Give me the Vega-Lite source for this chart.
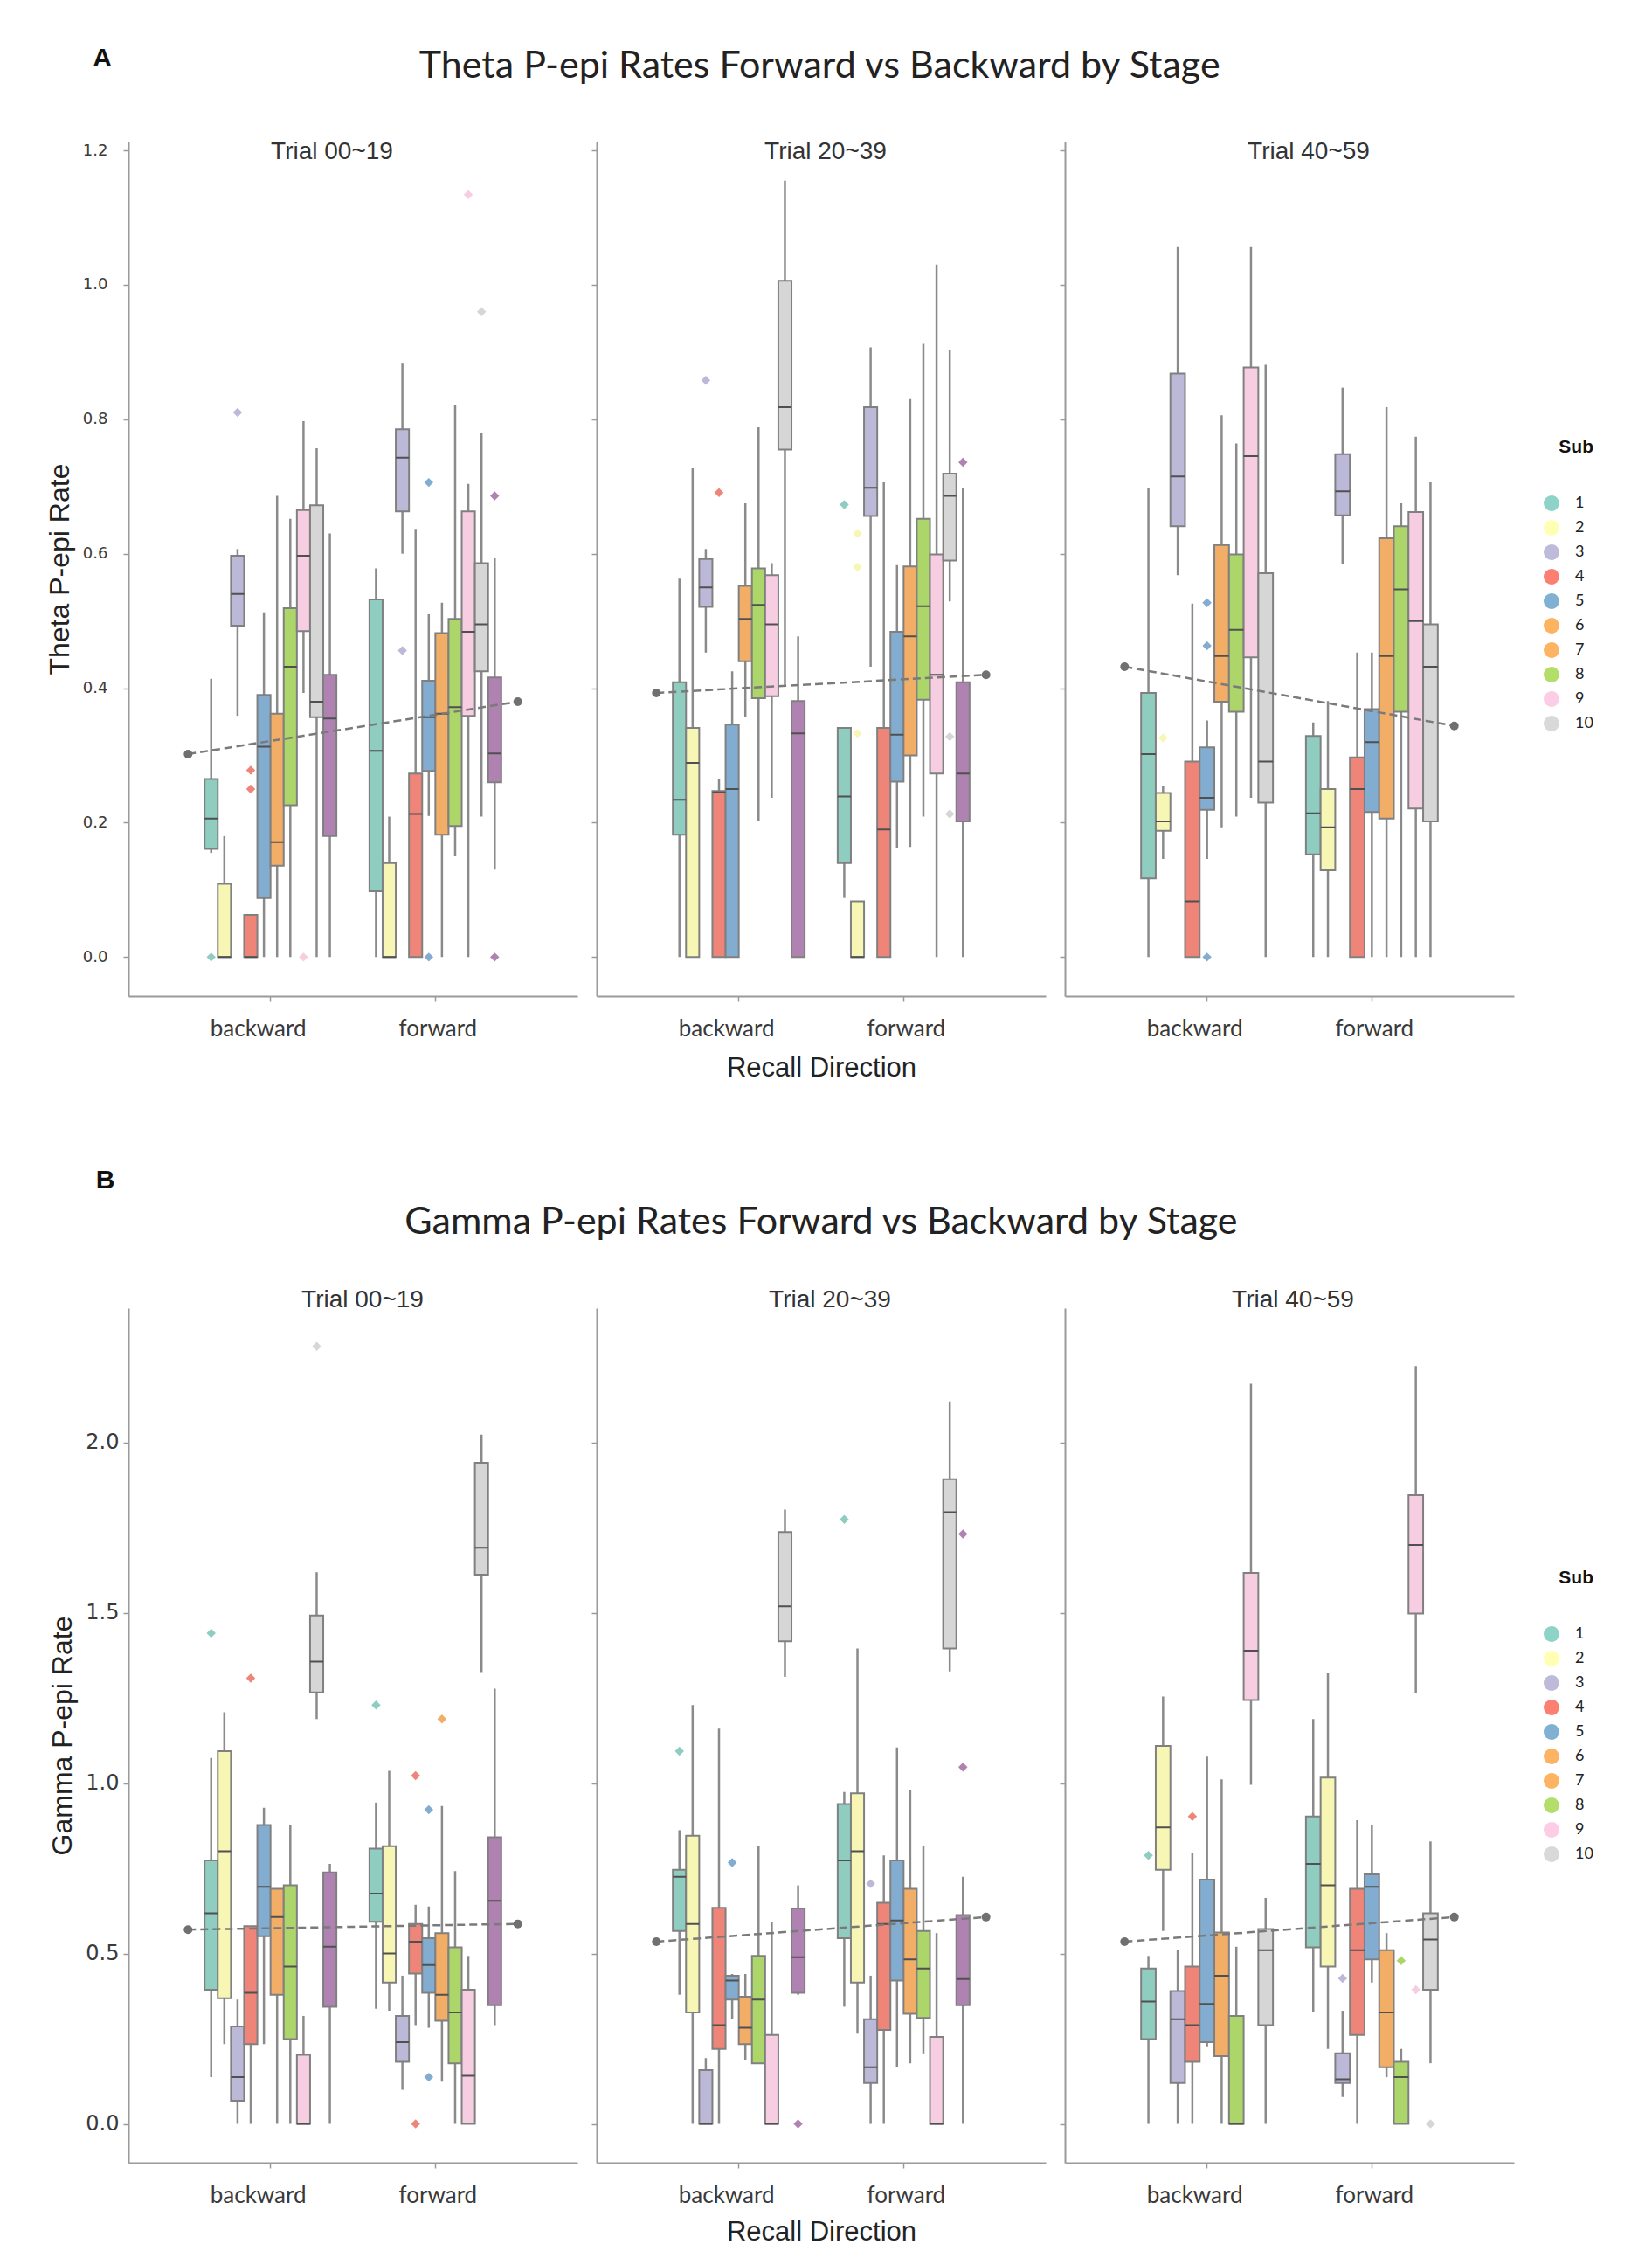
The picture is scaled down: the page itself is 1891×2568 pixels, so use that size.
{
  "$schema": "https://vega.github.io/schema/vega-lite/v6.json",
  "background": "white",
  "padding": {"left": 52, "top": 52, "right": 10, "bottom": 10},
  "datasets": {
    "theta": [
      {"k":"box","st":"00~19","d":"backward","sub":"1","lo":0.155,"q1":0.161,"med":0.206,"q3":0.265,"hi":0.414},
      {"k":"box","st":"00~19","d":"backward","sub":"2","lo":0,"q1":0,"med":0,"q3":0.109,"hi":0.18},
      {"k":"box","st":"00~19","d":"backward","sub":"3","lo":0.359,"q1":0.493,"med":0.54,"q3":0.597,"hi":0.607},
      {"k":"box","st":"00~19","d":"backward","sub":"4","lo":0,"q1":0,"med":0,"q3":0.063,"hi":0.063},
      {"k":"box","st":"00~19","d":"backward","sub":"5","lo":0,"q1":0.088,"med":0.313,"q3":0.39,"hi":0.513},
      {"k":"box","st":"00~19","d":"backward","sub":"6","lo":0,"q1":0.136,"med":0.171,"q3":0.362,"hi":0.686},
      {"k":"box","st":"00~19","d":"backward","sub":"7","lo":0,"q1":0.226,"med":0.432,"q3":0.519,"hi":0.652},
      {"k":"box","st":"00~19","d":"backward","sub":"8","lo":0.393,"q1":0.485,"med":0.597,"q3":0.665,"hi":0.797},
      {"k":"box","st":"00~19","d":"backward","sub":"9","lo":0,"q1":0.357,"med":0.38,"q3":0.672,"hi":0.757},
      {"k":"box","st":"00~19","d":"backward","sub":"10","lo":0,"q1":0.18,"med":0.355,"q3":0.42,"hi":0.63},
      {"k":"box","st":"00~19","d":"forward","sub":"1","lo":0,"q1":0.098,"med":0.307,"q3":0.532,"hi":0.578},
      {"k":"box","st":"00~19","d":"forward","sub":"2","lo":0,"q1":0,"med":0,"q3":0.14,"hi":0.209},
      {"k":"box","st":"00~19","d":"forward","sub":"3","lo":0.6,"q1":0.663,"med":0.743,"q3":0.785,"hi":0.884},
      {"k":"box","st":"00~19","d":"forward","sub":"4","lo":0,"q1":0,"med":0.213,"q3":0.273,"hi":0.637},
      {"k":"box","st":"00~19","d":"forward","sub":"5","lo":0.21,"q1":0.277,"med":0.357,"q3":0.411,"hi":0.51},
      {"k":"box","st":"00~19","d":"forward","sub":"6","lo":0,"q1":0.182,"med":0.362,"q3":0.482,"hi":0.527},
      {"k":"box","st":"00~19","d":"forward","sub":"7","lo":0.15,"q1":0.195,"med":0.372,"q3":0.503,"hi":0.821},
      {"k":"box","st":"00~19","d":"forward","sub":"8","lo":0,"q1":0.359,"med":0.484,"q3":0.663,"hi":0.704},
      {"k":"box","st":"00~19","d":"forward","sub":"9","lo":0.209,"q1":0.425,"med":0.495,"q3":0.586,"hi":0.78},
      {"k":"box","st":"00~19","d":"forward","sub":"10","lo":0.13,"q1":0.26,"med":0.303,"q3":0.416,"hi":0.594},
      {"k":"out","st":"00~19","d":"backward","sub":"1","v":0},
      {"k":"out","st":"00~19","d":"backward","sub":"3","v":0.81},
      {"k":"out","st":"00~19","d":"backward","sub":"4","v":0.278},
      {"k":"out","st":"00~19","d":"backward","sub":"4","v":0.25},
      {"k":"out","st":"00~19","d":"backward","sub":"8","v":0},
      {"k":"out","st":"00~19","d":"forward","sub":"3","v":0.456},
      {"k":"out","st":"00~19","d":"forward","sub":"5","v":0.706},
      {"k":"out","st":"00~19","d":"forward","sub":"5","v":0},
      {"k":"out","st":"00~19","d":"forward","sub":"8","v":1.134},
      {"k":"out","st":"00~19","d":"forward","sub":"9","v":0.96},
      {"k":"out","st":"00~19","d":"forward","sub":"10","v":0.686},
      {"k":"out","st":"00~19","d":"forward","sub":"10","v":0},
      {"k":"reg","st":"00~19","rx":-0.5,"ry":0.302},
      {"k":"reg","st":"00~19","rx":1.5,"ry":0.38},

      {"k":"box","st":"20~39","d":"backward","sub":"1","lo":0,"q1":0.182,"med":0.234,"q3":0.409,"hi":0.563},
      {"k":"box","st":"20~39","d":"backward","sub":"2","lo":0,"q1":0,"med":0.289,"q3":0.341,"hi":0.727},
      {"k":"box","st":"20~39","d":"backward","sub":"3","lo":0.453,"q1":0.521,"med":0.55,"q3":0.592,"hi":0.607},
      {"k":"box","st":"20~39","d":"backward","sub":"4","lo":0,"q1":0,"med":0.245,"q3":0.247,"hi":0.265},
      {"k":"box","st":"20~39","d":"backward","sub":"5","lo":0,"q1":0,"med":0.25,"q3":0.346,"hi":0.425},
      {"k":"box","st":"20~39","d":"backward","sub":"6","lo":0.357,"q1":0.44,"med":0.503,"q3":0.552,"hi":0.675},
      {"k":"box","st":"20~39","d":"backward","sub":"7","lo":0.202,"q1":0.385,"med":0.524,"q3":0.578,"hi":0.788},
      {"k":"box","st":"20~39","d":"backward","sub":"8","lo":0.237,"q1":0.388,"med":0.495,"q3":0.568,"hi":0.586},
      {"k":"box","st":"20~39","d":"backward","sub":"9","lo":0.404,"q1":0.755,"med":0.818,"q3":1.006,"hi":1.155},
      {"k":"box","st":"20~39","d":"backward","sub":"10","lo":0,"q1":0,"med":0.333,"q3":0.381,"hi":0.477},
      {"k":"box","st":"20~39","d":"forward","sub":"1","lo":0.088,"q1":0.14,"med":0.239,"q3":0.341,"hi":0.341},
      {"k":"box","st":"20~39","d":"forward","sub":"2","lo":0,"q1":0,"med":0,"q3":0.083,"hi":0.083},
      {"k":"box","st":"20~39","d":"forward","sub":"3","lo":0.432,"q1":0.656,"med":0.698,"q3":0.818,"hi":0.907},
      {"k":"box","st":"20~39","d":"forward","sub":"4","lo":0,"q1":0,"med":0.19,"q3":0.341,"hi":0.706},
      {"k":"box","st":"20~39","d":"forward","sub":"5","lo":0.162,"q1":0.261,"med":0.331,"q3":0.484,"hi":0.583},
      {"k":"box","st":"20~39","d":"forward","sub":"6","lo":0.164,"q1":0.3,"med":0.477,"q3":0.581,"hi":0.83},
      {"k":"box","st":"20~39","d":"forward","sub":"7","lo":0.209,"q1":0.383,"med":0.522,"q3":0.652,"hi":0.912},
      {"k":"box","st":"20~39","d":"forward","sub":"8","lo":0,"q1":0.273,"med":0.42,"q3":0.599,"hi":1.03},
      {"k":"box","st":"20~39","d":"forward","sub":"9","lo":0.529,"q1":0.59,"med":0.686,"q3":0.719,"hi":0.903},
      {"k":"box","st":"20~39","d":"forward","sub":"10","lo":0,"q1":0.202,"med":0.273,"q3":0.409,"hi":0.698},
      {"k":"out","st":"20~39","d":"backward","sub":"3","v":0.858},
      {"k":"out","st":"20~39","d":"backward","sub":"4","v":0.691},
      {"k":"out","st":"20~39","d":"forward","sub":"1","v":0.673},
      {"k":"out","st":"20~39","d":"forward","sub":"2","v":0.333},
      {"k":"out","st":"20~39","d":"forward","sub":"2","v":0.58},
      {"k":"out","st":"20~39","d":"forward","sub":"2","v":0.63},
      {"k":"out","st":"20~39","d":"forward","sub":"9","v":0.328},
      {"k":"out","st":"20~39","d":"forward","sub":"9","v":0.213},
      {"k":"out","st":"20~39","d":"forward","sub":"10","v":0.736},
      {"k":"reg","st":"20~39","rx":-0.5,"ry":0.393},
      {"k":"reg","st":"20~39","rx":1.5,"ry":0.42},

      {"k":"box","st":"40~59","d":"backward","sub":"1","lo":0,"q1":0.117,"med":0.302,"q3":0.393,"hi":0.698},
      {"k":"box","st":"40~59","d":"backward","sub":"2","lo":0.146,"q1":0.188,"med":0.202,"q3":0.244,"hi":0.255},
      {"k":"box","st":"40~59","d":"backward","sub":"3","lo":0.568,"q1":0.641,"med":0.715,"q3":0.868,"hi":1.056},
      {"k":"box","st":"40~59","d":"backward","sub":"4","lo":0,"q1":0,"med":0.083,"q3":0.291,"hi":0.526},
      {"k":"box","st":"40~59","d":"backward","sub":"5","lo":0.146,"q1":0.219,"med":0.237,"q3":0.312,"hi":0.352},
      {"k":"box","st":"40~59","d":"backward","sub":"6","lo":0.193,"q1":0.38,"med":0.448,"q3":0.613,"hi":0.806},
      {"k":"box","st":"40~59","d":"backward","sub":"7","lo":0.209,"q1":0.365,"med":0.487,"q3":0.599,"hi":0.764},
      {"k":"box","st":"40~59","d":"backward","sub":"8","lo":0.237,"q1":0.446,"med":0.745,"q3":0.877,"hi":1.056},
      {"k":"box","st":"40~59","d":"backward","sub":"9","lo":0,"q1":0.23,"med":0.291,"q3":0.571,"hi":0.881},
      {"k":"box","st":"40~59","d":"forward","sub":"1","lo":0,"q1":0.153,"med":0.214,"q3":0.329,"hi":0.349},
      {"k":"box","st":"40~59","d":"forward","sub":"2","lo":0,"q1":0.129,"med":0.193,"q3":0.25,"hi":0.381},
      {"k":"box","st":"40~59","d":"forward","sub":"3","lo":0.584,"q1":0.657,"med":0.693,"q3":0.748,"hi":0.847},
      {"k":"box","st":"40~59","d":"forward","sub":"4","lo":0,"q1":0,"med":0.25,"q3":0.297,"hi":0.453},
      {"k":"box","st":"40~59","d":"forward","sub":"5","lo":0,"q1":0.216,"med":0.32,"q3":0.369,"hi":0.453},
      {"k":"box","st":"40~59","d":"forward","sub":"6","lo":0,"q1":0.206,"med":0.448,"q3":0.623,"hi":0.818},
      {"k":"box","st":"40~59","d":"forward","sub":"7","lo":0,"q1":0.365,"med":0.547,"q3":0.641,"hi":0.675},
      {"k":"box","st":"40~59","d":"forward","sub":"8","lo":0,"q1":0.221,"med":0.5,"q3":0.662,"hi":0.774},
      {"k":"box","st":"40~59","d":"forward","sub":"9","lo":0,"q1":0.202,"med":0.432,"q3":0.495,"hi":0.706},
      {"k":"out","st":"40~59","d":"backward","sub":"2","v":0.326},
      {"k":"out","st":"40~59","d":"backward","sub":"5","v":0.527},
      {"k":"out","st":"40~59","d":"backward","sub":"5","v":0.463},
      {"k":"out","st":"40~59","d":"backward","sub":"5","v":0},
      {"k":"reg","st":"40~59","rx":-0.5,"ry":0.432},
      {"k":"reg","st":"40~59","rx":1.5,"ry":0.344}
    ],
    "gamma": [
      {"k":"box","st":"00~19","d":"backward","sub":"1","lo":0.137,"q1":0.394,"med":0.618,"q3":0.773,"hi":1.074},
      {"k":"box","st":"00~19","d":"backward","sub":"2","lo":0.234,"q1":0.369,"med":0.8,"q3":1.094,"hi":1.208},
      {"k":"box","st":"00~19","d":"backward","sub":"3","lo":0,"q1":0.068,"med":0.137,"q3":0.286,"hi":0.365},
      {"k":"box","st":"00~19","d":"backward","sub":"4","lo":0,"q1":0.234,"med":0.385,"q3":0.58,"hi":0.58},
      {"k":"box","st":"00~19","d":"backward","sub":"5","lo":0.234,"q1":0.551,"med":0.696,"q3":0.877,"hi":0.928},
      {"k":"box","st":"00~19","d":"backward","sub":"6","lo":0,"q1":0.379,"med":0.607,"q3":0.69,"hi":0.69},
      {"k":"box","st":"00~19","d":"backward","sub":"7","lo":0,"q1":0.249,"med":0.462,"q3":0.7,"hi":0.877},
      {"k":"box","st":"00~19","d":"backward","sub":"8","lo":0,"q1":0,"med":0,"q3":0.203,"hi":0.317},
      {"k":"box","st":"00~19","d":"backward","sub":"9","lo":1.188,"q1":1.266,"med":1.357,"q3":1.492,"hi":1.619},
      {"k":"box","st":"00~19","d":"backward","sub":"10","lo":0,"q1":0.344,"med":0.52,"q3":0.738,"hi":0.763},
      {"k":"box","st":"00~19","d":"forward","sub":"1","lo":0.338,"q1":0.593,"med":0.676,"q3":0.808,"hi":0.943},
      {"k":"box","st":"00~19","d":"forward","sub":"2","lo":0.332,"q1":0.415,"med":0.5,"q3":0.815,"hi":1.036},
      {"k":"box","st":"00~19","d":"forward","sub":"3","lo":0.1,"q1":0.182,"med":0.24,"q3":0.317,"hi":0.435},
      {"k":"box","st":"00~19","d":"forward","sub":"4","lo":0.29,"q1":0.441,"med":0.535,"q3":0.587,"hi":0.643},
      {"k":"box","st":"00~19","d":"forward","sub":"5","lo":0.282,"q1":0.385,"med":0.466,"q3":0.545,"hi":0.638},
      {"k":"box","st":"00~19","d":"forward","sub":"6","lo":0.124,"q1":0.303,"med":0.379,"q3":0.56,"hi":0.933},
      {"k":"box","st":"00~19","d":"forward","sub":"7","lo":0,"q1":0.178,"med":0.327,"q3":0.518,"hi":0.742},
      {"k":"box","st":"00~19","d":"forward","sub":"8","lo":0,"q1":0,"med":0.141,"q3":0.394,"hi":0.493},
      {"k":"box","st":"00~19","d":"forward","sub":"9","lo":1.326,"q1":1.612,"med":1.691,"q3":1.94,"hi":2.023},
      {"k":"box","st":"00~19","d":"forward","sub":"10","lo":0.29,"q1":0.348,"med":0.655,"q3":0.841,"hi":1.277},
      {"k":"out","st":"00~19","d":"backward","sub":"1","v":1.44},
      {"k":"out","st":"00~19","d":"backward","sub":"4","v":1.308},
      {"k":"out","st":"00~19","d":"backward","sub":"9","v":2.282},
      {"k":"out","st":"00~19","d":"forward","sub":"1","v":1.229},
      {"k":"out","st":"00~19","d":"forward","sub":"4","v":1.022},
      {"k":"out","st":"00~19","d":"forward","sub":"4","v":0},
      {"k":"out","st":"00~19","d":"forward","sub":"5","v":0.922},
      {"k":"out","st":"00~19","d":"forward","sub":"5","v":0.137},
      {"k":"out","st":"00~19","d":"forward","sub":"6","v":1.188},
      {"k":"reg","st":"00~19","rx":-0.5,"ry":0.57},
      {"k":"reg","st":"00~19","rx":1.5,"ry":0.587},

      {"k":"box","st":"20~39","d":"backward","sub":"1","lo":0.379,"q1":0.566,"med":0.725,"q3":0.746,"hi":0.862},
      {"k":"box","st":"20~39","d":"backward","sub":"2","lo":0,"q1":0.327,"med":0.587,"q3":0.846,"hi":1.229},
      {"k":"box","st":"20~39","d":"backward","sub":"3","lo":0,"q1":0,"med":0,"q3":0.158,"hi":0.193},
      {"k":"box","st":"20~39","d":"backward","sub":"4","lo":0,"q1":0.22,"med":0.29,"q3":0.634,"hi":1.16},
      {"k":"box","st":"20~39","d":"backward","sub":"5","lo":0.307,"q1":0.365,"med":0.421,"q3":0.435,"hi":0.44},
      {"k":"box","st":"20~39","d":"backward","sub":"6","lo":0.187,"q1":0.234,"med":0.282,"q3":0.373,"hi":0.44},
      {"k":"box","st":"20~39","d":"backward","sub":"7","lo":0.178,"q1":0.178,"med":0.365,"q3":0.493,"hi":0.815},
      {"k":"box","st":"20~39","d":"backward","sub":"8","lo":0,"q1":0,"med":0,"q3":0.261,"hi":0.593},
      {"k":"box","st":"20~39","d":"backward","sub":"9","lo":1.312,"q1":1.416,"med":1.519,"q3":1.737,"hi":1.803},
      {"k":"box","st":"20~39","d":"backward","sub":"10","lo":0.379,"q1":0.385,"med":0.489,"q3":0.632,"hi":0.7},
      {"k":"box","st":"20~39","d":"forward","sub":"1","lo":0.344,"q1":0.545,"med":0.773,"q3":0.939,"hi":0.974},
      {"k":"box","st":"20~39","d":"forward","sub":"2","lo":0.265,"q1":0.415,"med":0.8,"q3":0.97,"hi":1.395},
      {"k":"box","st":"20~39","d":"forward","sub":"3","lo":0,"q1":0.12,"med":0.166,"q3":0.307,"hi":0.435},
      {"k":"box","st":"20~39","d":"forward","sub":"4","lo":0,"q1":0.276,"med":0.587,"q3":0.649,"hi":0.788},
      {"k":"box","st":"20~39","d":"forward","sub":"5","lo":0.166,"q1":0.421,"med":0.597,"q3":0.773,"hi":1.105},
      {"k":"box","st":"20~39","d":"forward","sub":"6","lo":0.178,"q1":0.323,"med":0.483,"q3":0.69,"hi":0.98},
      {"k":"box","st":"20~39","d":"forward","sub":"7","lo":0.207,"q1":0.311,"med":0.456,"q3":0.566,"hi":0.815},
      {"k":"box","st":"20~39","d":"forward","sub":"8","lo":0,"q1":0,"med":0,"q3":0.255,"hi":0.56},
      {"k":"box","st":"20~39","d":"forward","sub":"9","lo":1.328,"q1":1.395,"med":1.795,"q3":1.892,"hi":2.12},
      {"k":"box","st":"20~39","d":"forward","sub":"10","lo":0,"q1":0.348,"med":0.425,"q3":0.613,"hi":0.725},
      {"k":"out","st":"20~39","d":"backward","sub":"1","v":1.094},
      {"k":"out","st":"20~39","d":"backward","sub":"5","v":0.767},
      {"k":"out","st":"20~39","d":"backward","sub":"10","v":0},
      {"k":"out","st":"20~39","d":"forward","sub":"1","v":1.774},
      {"k":"out","st":"20~39","d":"forward","sub":"3","v":0.705},
      {"k":"out","st":"20~39","d":"forward","sub":"10","v":1.731},
      {"k":"out","st":"20~39","d":"forward","sub":"10","v":1.047},
      {"k":"reg","st":"20~39","rx":-0.5,"ry":0.535},
      {"k":"reg","st":"20~39","rx":1.5,"ry":0.607},

      {"k":"box","st":"40~59","d":"backward","sub":"1","lo":0,"q1":0.249,"med":0.359,"q3":0.456,"hi":0.493},
      {"k":"box","st":"40~59","d":"backward","sub":"2","lo":0.566,"q1":0.746,"med":0.87,"q3":1.109,"hi":1.254},
      {"k":"box","st":"40~59","d":"backward","sub":"3","lo":0,"q1":0.12,"med":0.307,"q3":0.39,"hi":0.51},
      {"k":"box","st":"40~59","d":"backward","sub":"4","lo":0,"q1":0.182,"med":0.29,"q3":0.462,"hi":0.794},
      {"k":"box","st":"40~59","d":"backward","sub":"5","lo":0.228,"q1":0.24,"med":0.352,"q3":0.717,"hi":1.078},
      {"k":"box","st":"40~59","d":"backward","sub":"6","lo":0,"q1":0.199,"med":0.435,"q3":0.562,"hi":1.011},
      {"k":"box","st":"40~59","d":"backward","sub":"7","lo":0,"q1":0,"med":0,"q3":0.317,"hi":0.52},
      {"k":"box","st":"40~59","d":"backward","sub":"8","lo":0.995,"q1":1.244,"med":1.389,"q3":1.617,"hi":2.172},
      {"k":"box","st":"40~59","d":"backward","sub":"9","lo":0,"q1":0.29,"med":0.51,"q3":0.572,"hi":0.663},
      {"k":"box","st":"40~59","d":"forward","sub":"1","lo":0.327,"q1":0.518,"med":0.763,"q3":0.902,"hi":1.188},
      {"k":"box","st":"40~59","d":"forward","sub":"2","lo":0.22,"q1":0.462,"med":0.7,"q3":1.016,"hi":1.322},
      {"k":"box","st":"40~59","d":"forward","sub":"3","lo":0.079,"q1":0.12,"med":0.131,"q3":0.207,"hi":0.332},
      {"k":"box","st":"40~59","d":"forward","sub":"4","lo":0,"q1":0.261,"med":0.51,"q3":0.69,"hi":0.891},
      {"k":"box","st":"40~59","d":"forward","sub":"5","lo":0.415,"q1":0.483,"med":0.696,"q3":0.732,"hi":0.877},
      {"k":"box","st":"40~59","d":"forward","sub":"6","lo":0.137,"q1":0.166,"med":0.327,"q3":0.51,"hi":0.56},
      {"k":"box","st":"40~59","d":"forward","sub":"7","lo":0,"q1":0,"med":0.137,"q3":0.182,"hi":0.22},
      {"k":"box","st":"40~59","d":"forward","sub":"8","lo":1.264,"q1":1.498,"med":1.699,"q3":1.845,"hi":2.224},
      {"k":"box","st":"40~59","d":"forward","sub":"9","lo":0.178,"q1":0.394,"med":0.541,"q3":0.618,"hi":0.829},
      {"k":"out","st":"40~59","d":"backward","sub":"1","v":0.788},
      {"k":"out","st":"40~59","d":"backward","sub":"4","v":0.902},
      {"k":"out","st":"40~59","d":"backward","sub":"8","v":1.343},
      {"k":"out","st":"40~59","d":"forward","sub":"3","v":0.427},
      {"k":"out","st":"40~59","d":"forward","sub":"7","v":0.479},
      {"k":"out","st":"40~59","d":"forward","sub":"8","v":0.394},
      {"k":"out","st":"40~59","d":"forward","sub":"9","v":0},
      {"k":"reg","st":"40~59","rx":-0.5,"ry":0.535},
      {"k":"reg","st":"40~59","rx":1.5,"ry":0.607}
    ]
  },
  "vconcat": [
    {
      "title": {"text": "A", "anchor": "start", "frame": "bounds", "font": "Liberation Sans", "fontSize": 30, "fontWeight": "bold", "color": "#111111", "dx": 54, "offset": -27},
      "vconcat": [
        {
          "title": {"text": "Theta P-epi Rates Forward vs Backward by Stage", "anchor": "middle", "frame": "bounds", "font": "Lato", "fontSize": 43, "fontWeight": "normal", "color": "#222222", "offset": 62},
          "spacing": 22,
          "bounds": "flush",
          "resolve": {"scale": {"fill": "independent", "xOffset": "independent"}},
          "hconcat": [
            {
              "width": 514, "height": 978,
              "title": {"text": "Trial  00~19", "frame": "group", "anchor": "middle", "offset": -26, "dx": -24, "font": "Liberation Sans", "fontSize": 28, "fontWeight": "normal", "color": "#333333"},
              "layer": [
                {"layer": [
                  {"data": {"name": "theta"}, "transform": [{"filter": "datum.st == '00~19' && datum.k == 'box'"}],
                   "mark": {"type": "rule", "color": "#8a8a8a", "strokeWidth": 2.5},
                   "encoding": {
                     "x": {"field": "d", "type": "nominal", "scale": {"domain": ["backward", "forward"], "paddingInner": 0.2, "paddingOuter": 0.462},
                           "axis": {"title": null, "labelAngle": 0, "labelFont": "Lato", "labelFontSize": 26, "labelPadding": 18, "labelOffset": {"condition": {"test": "datum.value == 'backward'", "value": -14}, "value": 3}}},
                     "xOffset": {"field": "sub", "type": "nominal", "scale": {"domain": ["1","2","3","4","5","6","7","8","9","10"], "paddingInner": 0, "paddingOuter": 0}},
                     "y": {"field": "lo", "type": "quantitative", "scale": {"domain": [-0.058, 1.213], "nice": false, "zero": false},
                           "axis": {"title": "Theta P-epi Rate", "titleFont": "Liberation Sans", "titleFontSize": 32, "titlePadding": 9, "labelFont": "DejaVu Sans", "labelFontSize": 18, "labelPadding": 18, "values": [0, 0.2, 0.4, 0.6, 0.8, 1.0, 1.2], "format": ".1f"}},
                     "y2": {"field": "hi"}}},
                  {"data": {"name": "theta"}, "transform": [{"filter": "datum.st == '00~19' && datum.k == 'box'"}],
                   "mark": {"type": "bar", "stroke": "#808080", "strokeWidth": 2},
                   "encoding": {"x": {"field": "d", "type": "nominal"}, "xOffset": {"field": "sub", "type": "nominal"},
                     "y": {"field": "q1", "type": "quantitative"}, "y2": {"field": "q3"},
                     "color": {"field": "sub", "type": "nominal", "scale": {"domain": ["1","2","3","4","5","6","7","8","9","10"], "range": ["#8fcdc1","#f7f6b5","#bcb8d8","#ef8579","#83add0","#f2ae66","#add66a","#f7cde2","#d6d6d6","#b082b2"]}, "legend": null}}},
                  {"data": {"name": "theta"}, "transform": [{"filter": "datum.st == '00~19' && datum.k == 'box'"}],
                   "mark": {"type": "bar", "fillOpacity": 0, "stroke": "#505050", "strokeWidth": 2},
                   "encoding": {"x": {"field": "d", "type": "nominal"}, "xOffset": {"field": "sub", "type": "nominal"},
                     "y": {"field": "med", "type": "quantitative"}, "y2": {"field": "med"}}},
                  {"data": {"name": "theta"}, "transform": [{"filter": "datum.st == '00~19' && datum.k == 'out'"}],
                   "mark": {"type": "point", "shape": "diamond", "filled": true, "size": 110, "opacity": 1},
                   "encoding": {"x": {"field": "d", "type": "nominal"}, "xOffset": {"field": "sub", "type": "nominal"},
                     "y": {"field": "v", "type": "quantitative"},
                     "color": {"field": "sub", "type": "nominal", "legend": null}}}
                ]},
                {"layer": [
                  {"data": {"name": "theta"}, "transform": [{"filter": "datum.st == '00~19' && datum.k == 'reg'"}],
                   "mark": {"type": "line", "color": "#7a7a7a", "strokeWidth": 2.5, "strokeDash": [9, 5]},
                   "encoding": {"x": {"field": "rx", "type": "quantitative", "scale": {"domain": [-0.862, 1.862], "nice": false, "zero": false}, "axis": null},
                     "y": {"field": "ry", "type": "quantitative"}}},
                  {"data": {"name": "theta"}, "transform": [{"filter": "datum.st == '00~19' && datum.k == 'reg'"}],
                   "mark": {"type": "point", "filled": true, "color": "#707070", "size": 100, "opacity": 1},
                   "encoding": {"x": {"field": "rx", "type": "quantitative"}, "y": {"field": "ry", "type": "quantitative"}}}
                ]}
              ],
              "resolve": {"scale": {"x": "independent", "xOffset": "independent"}}
            },
            {
              "width": 514, "height": 978,
              "title": {"text": "Trial  20~39", "frame": "group", "anchor": "middle", "offset": -26, "dx": 5, "font": "Liberation Sans", "fontSize": 28, "fontWeight": "normal", "color": "#333333"},
              "layer": [
                {"layer": [
                  {"data": {"name": "theta"}, "transform": [{"filter": "datum.st == '20~39' && datum.k == 'box'"}],
                   "mark": {"type": "rule", "color": "#8a8a8a", "strokeWidth": 2.5},
                   "encoding": {
                     "x": {"field": "d", "type": "nominal", "scale": {"domain": ["backward", "forward"], "paddingInner": 0.2, "paddingOuter": 0.462},
                           "axis": {"title": "Recall Direction", "titleFont": "Liberation Sans", "titleFontSize": 31, "titlePadding": 17, "labelAngle": 0, "labelFont": "Lato", "labelFontSize": 26, "labelPadding": 18, "labelOffset": {"condition": {"test": "datum.value == 'backward'", "value": -14}, "value": 3}}},
                     "xOffset": {"field": "sub", "type": "nominal", "scale": {"domain": ["1","2","3","4","5","6","7","8","9","10"], "paddingInner": 0, "paddingOuter": 0}},
                     "y": {"field": "lo", "type": "quantitative", "scale": {"domain": [-0.058, 1.213], "nice": false, "zero": false},
                           "axis": {"title": null, "labels": false, "values": [0, 0.2, 0.4, 0.6, 0.8, 1.0, 1.2]}},
                     "y2": {"field": "hi"}}},
                  {"data": {"name": "theta"}, "transform": [{"filter": "datum.st == '20~39' && datum.k == 'box'"}],
                   "mark": {"type": "bar", "stroke": "#808080", "strokeWidth": 2},
                   "encoding": {"x": {"field": "d", "type": "nominal"}, "xOffset": {"field": "sub", "type": "nominal"},
                     "y": {"field": "q1", "type": "quantitative"}, "y2": {"field": "q3"},
                     "color": {"field": "sub", "type": "nominal", "scale": {"domain": ["1","2","3","4","5","6","7","8","9","10"], "range": ["#8fcdc1","#f7f6b5","#bcb8d8","#ef8579","#83add0","#f2ae66","#add66a","#f7cde2","#d6d6d6","#b082b2"]}, "legend": null}}},
                  {"data": {"name": "theta"}, "transform": [{"filter": "datum.st == '20~39' && datum.k == 'box'"}],
                   "mark": {"type": "bar", "fillOpacity": 0, "stroke": "#505050", "strokeWidth": 2},
                   "encoding": {"x": {"field": "d", "type": "nominal"}, "xOffset": {"field": "sub", "type": "nominal"},
                     "y": {"field": "med", "type": "quantitative"}, "y2": {"field": "med"}}},
                  {"data": {"name": "theta"}, "transform": [{"filter": "datum.st == '20~39' && datum.k == 'out'"}],
                   "mark": {"type": "point", "shape": "diamond", "filled": true, "size": 110, "opacity": 1},
                   "encoding": {"x": {"field": "d", "type": "nominal"}, "xOffset": {"field": "sub", "type": "nominal"},
                     "y": {"field": "v", "type": "quantitative"},
                     "color": {"field": "sub", "type": "nominal", "legend": null}}}
                ]},
                {"layer": [
                  {"data": {"name": "theta"}, "transform": [{"filter": "datum.st == '20~39' && datum.k == 'reg'"}],
                   "mark": {"type": "line", "color": "#7a7a7a", "strokeWidth": 2.5, "strokeDash": [9, 5]},
                   "encoding": {"x": {"field": "rx", "type": "quantitative", "scale": {"domain": [-0.862, 1.862], "nice": false, "zero": false}, "axis": null},
                     "y": {"field": "ry", "type": "quantitative"}}},
                  {"data": {"name": "theta"}, "transform": [{"filter": "datum.st == '20~39' && datum.k == 'reg'"}],
                   "mark": {"type": "point", "filled": true, "color": "#707070", "size": 100, "opacity": 1},
                   "encoding": {"x": {"field": "rx", "type": "quantitative"}, "y": {"field": "ry", "type": "quantitative"}}}
                ]}
              ],
              "resolve": {"scale": {"x": "independent", "xOffset": "independent"}}
            },
            {
              "width": 514, "height": 978,
              "title": {"text": "Trial  40~59", "frame": "group", "anchor": "middle", "offset": -26, "dx": 22, "font": "Liberation Sans", "fontSize": 28, "fontWeight": "normal", "color": "#333333"},
              "layer": [
                {"layer": [
                  {"data": {"name": "theta"}, "transform": [{"filter": "datum.st == '40~59' && datum.k == 'box'"}],
                   "mark": {"type": "rule", "color": "#8a8a8a", "strokeWidth": 2.5},
                   "encoding": {
                     "x": {"field": "d", "type": "nominal", "scale": {"domain": ["backward", "forward"], "paddingInner": 0.2, "paddingOuter": 0.462},
                           "axis": {"title": null, "labelAngle": 0, "labelFont": "Lato", "labelFontSize": 26, "labelPadding": 18, "labelOffset": {"condition": {"test": "datum.value == 'backward'", "value": -14}, "value": 3}}},
                     "xOffset": {"field": "sub", "type": "nominal", "scale": {"domain": ["1","2","3","4","5","6","7","8","9"], "paddingInner": 0, "paddingOuter": 0}},
                     "y": {"field": "lo", "type": "quantitative", "scale": {"domain": [-0.058, 1.213], "nice": false, "zero": false},
                           "axis": {"title": null, "labels": false, "values": [0, 0.2, 0.4, 0.6, 0.8, 1.0, 1.2]}},
                     "y2": {"field": "hi"}}},
                  {"data": {"name": "theta"}, "transform": [{"filter": "datum.st == '40~59' && datum.k == 'box'"}],
                   "mark": {"type": "bar", "stroke": "#808080", "strokeWidth": 2},
                   "encoding": {"x": {"field": "d", "type": "nominal"}, "xOffset": {"field": "sub", "type": "nominal"},
                     "y": {"field": "q1", "type": "quantitative"}, "y2": {"field": "q3"},
                     "color": {"field": "sub", "type": "nominal", "scale": {"domain": ["1","2","3","4","5","6","7","8","9","10"], "range": ["#8fcdc1","#f7f6b5","#bcb8d8","#ef8579","#83add0","#f2ae66","#add66a","#f7cde2","#d6d6d6","#b082b2"]}, "legend": null}}},
                  {"data": {"name": "theta"}, "transform": [{"filter": "datum.st == '40~59' && datum.k == 'box'"}],
                   "mark": {"type": "bar", "fillOpacity": 0, "stroke": "#505050", "strokeWidth": 2},
                   "encoding": {"x": {"field": "d", "type": "nominal"}, "xOffset": {"field": "sub", "type": "nominal"},
                     "y": {"field": "med", "type": "quantitative"}, "y2": {"field": "med"}}},
                  {"data": {"name": "theta"}, "transform": [{"filter": "datum.st == '40~59' && datum.k == 'out'"}],
                   "mark": {"type": "point", "shape": "diamond", "filled": true, "size": 110, "opacity": 1},
                   "encoding": {"x": {"field": "d", "type": "nominal"}, "xOffset": {"field": "sub", "type": "nominal"},
                     "y": {"field": "v", "type": "quantitative"},
                     "color": {"field": "sub", "type": "nominal", "legend": null}}},
                  {"data": {"name": "theta"}, "transform": [{"filter": "false"}],
                   "mark": {"type": "point", "filled": true, "shape": "circle"},
                   "encoding": {"fill": {"field": "sub", "type": "nominal",
                     "scale": {"domain": ["1","2","3","4","5","6","7","8","9","10"], "range": ["#8dd3c7","#ffffb3","#bebada","#fb8072","#80b1d3","#fdb462","#fdb462","#b3de69","#fccde5","#d9d9d9"]},
                     "legend": {"title": "Sub", "orient": "none", "legendX": 548, "legendY": 339, "padding": 0, "titleAnchor": "end", "titleFont": "Liberation Sans", "titleFontSize": 21, "titleFontWeight": "bold", "titleColor": "#111111", "titlePadding": 45, "labelFont": "Lato", "labelFontSize": 18, "labelColor": "#222222", "labelOffset": 18, "symbolType": "circle", "symbolSize": 324, "symbolStrokeWidth": 0, "symbolOpacity": 1, "rowPadding": 10}}}}
                ]},
                {"layer": [
                  {"data": {"name": "theta"}, "transform": [{"filter": "datum.st == '40~59' && datum.k == 'reg'"}],
                   "mark": {"type": "line", "color": "#7a7a7a", "strokeWidth": 2.5, "strokeDash": [9, 5]},
                   "encoding": {"x": {"field": "rx", "type": "quantitative", "scale": {"domain": [-0.862, 1.862], "nice": false, "zero": false}, "axis": null},
                     "y": {"field": "ry", "type": "quantitative"}}},
                  {"data": {"name": "theta"}, "transform": [{"filter": "datum.st == '40~59' && datum.k == 'reg'"}],
                   "mark": {"type": "point", "filled": true, "color": "#707070", "size": 100, "opacity": 1},
                   "encoding": {"x": {"field": "rx", "type": "quantitative"}, "y": {"field": "ry", "type": "quantitative"}}}
                ]}
              ],
              "resolve": {"scale": {"x": "independent", "xOffset": "independent"}}
            }
          ]
        }
      ]
    },
    {
      "title": {"text": "B", "anchor": "start", "frame": "bounds", "font": "Liberation Sans", "fontSize": 30, "fontWeight": "bold", "color": "#111111", "dx": 54, "offset": 12},
      "vconcat": [
        {
          "title": {"text": "Gamma P-epi Rates Forward vs Backward by Stage", "anchor": "middle", "frame": "bounds", "font": "Lato", "fontSize": 43, "fontWeight": "normal", "color": "#222222", "offset": 53},
          "spacing": 22,
          "bounds": "flush",
          "resolve": {"scale": {"fill": "independent", "xOffset": "independent"}},
          "hconcat": [
            {
              "width": 514, "height": 978,
              "title": {"text": "Trial  00~19", "frame": "group", "anchor": "middle", "offset": -5, "dx": 11, "font": "Liberation Sans", "fontSize": 28, "fontWeight": "normal", "color": "#333333"},
              "layer": [
                {"layer": [
                  {"data": {"name": "gamma"}, "transform": [{"filter": "datum.st == '00~19' && datum.k == 'box'"}],
                   "mark": {"type": "rule", "color": "#8a8a8a", "strokeWidth": 2.5},
                   "encoding": {
                     "x": {"field": "d", "type": "nominal", "scale": {"domain": ["backward", "forward"], "paddingInner": 0.2, "paddingOuter": 0.462},
                           "axis": {"title": null, "labelAngle": 0, "labelFont": "Lato", "labelFontSize": 26, "labelPadding": 18, "labelOffset": {"condition": {"test": "datum.value == 'backward'", "value": -14}, "value": 3}}},
                     "xOffset": {"field": "sub", "type": "nominal", "scale": {"domain": ["1","2","3","4","5","6","7","8","9","10"], "paddingInner": 0, "paddingOuter": 0}},
                     "y": {"field": "lo", "type": "quantitative", "scale": {"domain": [-0.114, 2.394], "nice": false, "zero": false},
                           "axis": {"title": "Gamma P-epi Rate", "titleFont": "Liberation Sans", "titleFontSize": 32, "titlePadding": 9, "labelFont": "DejaVu Sans", "labelFontSize": 24, "labelPadding": 5, "values": [0, 0.5, 1.0, 1.5, 2.0], "format": ".1f"}},
                     "y2": {"field": "hi"}}},
                  {"data": {"name": "gamma"}, "transform": [{"filter": "datum.st == '00~19' && datum.k == 'box'"}],
                   "mark": {"type": "bar", "stroke": "#808080", "strokeWidth": 2},
                   "encoding": {"x": {"field": "d", "type": "nominal"}, "xOffset": {"field": "sub", "type": "nominal"},
                     "y": {"field": "q1", "type": "quantitative"}, "y2": {"field": "q3"},
                     "color": {"field": "sub", "type": "nominal", "scale": {"domain": ["1","2","3","4","5","6","7","8","9","10"], "range": ["#8fcdc1","#f7f6b5","#bcb8d8","#ef8579","#83add0","#f2ae66","#add66a","#f7cde2","#d6d6d6","#b082b2"]}, "legend": null}}},
                  {"data": {"name": "gamma"}, "transform": [{"filter": "datum.st == '00~19' && datum.k == 'box'"}],
                   "mark": {"type": "bar", "fillOpacity": 0, "stroke": "#505050", "strokeWidth": 2},
                   "encoding": {"x": {"field": "d", "type": "nominal"}, "xOffset": {"field": "sub", "type": "nominal"},
                     "y": {"field": "med", "type": "quantitative"}, "y2": {"field": "med"}}},
                  {"data": {"name": "gamma"}, "transform": [{"filter": "datum.st == '00~19' && datum.k == 'out'"}],
                   "mark": {"type": "point", "shape": "diamond", "filled": true, "size": 110, "opacity": 1},
                   "encoding": {"x": {"field": "d", "type": "nominal"}, "xOffset": {"field": "sub", "type": "nominal"},
                     "y": {"field": "v", "type": "quantitative"},
                     "color": {"field": "sub", "type": "nominal", "legend": null}}}
                ]},
                {"layer": [
                  {"data": {"name": "gamma"}, "transform": [{"filter": "datum.st == '00~19' && datum.k == 'reg'"}],
                   "mark": {"type": "line", "color": "#7a7a7a", "strokeWidth": 2.5, "strokeDash": [9, 5]},
                   "encoding": {"x": {"field": "rx", "type": "quantitative", "scale": {"domain": [-0.862, 1.862], "nice": false, "zero": false}, "axis": null},
                     "y": {"field": "ry", "type": "quantitative"}}},
                  {"data": {"name": "gamma"}, "transform": [{"filter": "datum.st == '00~19' && datum.k == 'reg'"}],
                   "mark": {"type": "point", "filled": true, "color": "#707070", "size": 100, "opacity": 1},
                   "encoding": {"x": {"field": "rx", "type": "quantitative"}, "y": {"field": "ry", "type": "quantitative"}}}
                ]}
              ],
              "resolve": {"scale": {"x": "independent", "xOffset": "independent"}}
            },
            {
              "width": 514, "height": 978,
              "title": {"text": "Trial  20~39", "frame": "group", "anchor": "middle", "offset": -5, "dx": 10, "font": "Liberation Sans", "fontSize": 28, "fontWeight": "normal", "color": "#333333"},
              "layer": [
                {"layer": [
                  {"data": {"name": "gamma"}, "transform": [{"filter": "datum.st == '20~39' && datum.k == 'box'"}],
                   "mark": {"type": "rule", "color": "#8a8a8a", "strokeWidth": 2.5},
                   "encoding": {
                     "x": {"field": "d", "type": "nominal", "scale": {"domain": ["backward", "forward"], "paddingInner": 0.2, "paddingOuter": 0.462},
                           "axis": {"title": "Recall Direction", "titleFont": "Liberation Sans", "titleFontSize": 31, "titlePadding": 14, "labelAngle": 0, "labelFont": "Lato", "labelFontSize": 26, "labelPadding": 18, "labelOffset": {"condition": {"test": "datum.value == 'backward'", "value": -14}, "value": 3}}},
                     "xOffset": {"field": "sub", "type": "nominal", "scale": {"domain": ["1","2","3","4","5","6","7","8","9","10"], "paddingInner": 0, "paddingOuter": 0}},
                     "y": {"field": "lo", "type": "quantitative", "scale": {"domain": [-0.114, 2.394], "nice": false, "zero": false},
                           "axis": {"title": null, "labels": false, "values": [0, 0.5, 1.0, 1.5, 2.0]}},
                     "y2": {"field": "hi"}}},
                  {"data": {"name": "gamma"}, "transform": [{"filter": "datum.st == '20~39' && datum.k == 'box'"}],
                   "mark": {"type": "bar", "stroke": "#808080", "strokeWidth": 2},
                   "encoding": {"x": {"field": "d", "type": "nominal"}, "xOffset": {"field": "sub", "type": "nominal"},
                     "y": {"field": "q1", "type": "quantitative"}, "y2": {"field": "q3"},
                     "color": {"field": "sub", "type": "nominal", "scale": {"domain": ["1","2","3","4","5","6","7","8","9","10"], "range": ["#8fcdc1","#f7f6b5","#bcb8d8","#ef8579","#83add0","#f2ae66","#add66a","#f7cde2","#d6d6d6","#b082b2"]}, "legend": null}}},
                  {"data": {"name": "gamma"}, "transform": [{"filter": "datum.st == '20~39' && datum.k == 'box'"}],
                   "mark": {"type": "bar", "fillOpacity": 0, "stroke": "#505050", "strokeWidth": 2},
                   "encoding": {"x": {"field": "d", "type": "nominal"}, "xOffset": {"field": "sub", "type": "nominal"},
                     "y": {"field": "med", "type": "quantitative"}, "y2": {"field": "med"}}},
                  {"data": {"name": "gamma"}, "transform": [{"filter": "datum.st == '20~39' && datum.k == 'out'"}],
                   "mark": {"type": "point", "shape": "diamond", "filled": true, "size": 110, "opacity": 1},
                   "encoding": {"x": {"field": "d", "type": "nominal"}, "xOffset": {"field": "sub", "type": "nominal"},
                     "y": {"field": "v", "type": "quantitative"},
                     "color": {"field": "sub", "type": "nominal", "legend": null}}}
                ]},
                {"layer": [
                  {"data": {"name": "gamma"}, "transform": [{"filter": "datum.st == '20~39' && datum.k == 'reg'"}],
                   "mark": {"type": "line", "color": "#7a7a7a", "strokeWidth": 2.5, "strokeDash": [9, 5]},
                   "encoding": {"x": {"field": "rx", "type": "quantitative", "scale": {"domain": [-0.862, 1.862], "nice": false, "zero": false}, "axis": null},
                     "y": {"field": "ry", "type": "quantitative"}}},
                  {"data": {"name": "gamma"}, "transform": [{"filter": "datum.st == '20~39' && datum.k == 'reg'"}],
                   "mark": {"type": "point", "filled": true, "color": "#707070", "size": 100, "opacity": 1},
                   "encoding": {"x": {"field": "rx", "type": "quantitative"}, "y": {"field": "ry", "type": "quantitative"}}}
                ]}
              ],
              "resolve": {"scale": {"x": "independent", "xOffset": "independent"}}
            },
            {
              "width": 514, "height": 978,
              "title": {"text": "Trial  40~59", "frame": "group", "anchor": "middle", "offset": -5, "dx": 4, "font": "Liberation Sans", "fontSize": 28, "fontWeight": "normal", "color": "#333333"},
              "layer": [
                {"layer": [
                  {"data": {"name": "gamma"}, "transform": [{"filter": "datum.st == '40~59' && datum.k == 'box'"}],
                   "mark": {"type": "rule", "color": "#8a8a8a", "strokeWidth": 2.5},
                   "encoding": {
                     "x": {"field": "d", "type": "nominal", "scale": {"domain": ["backward", "forward"], "paddingInner": 0.2, "paddingOuter": 0.462},
                           "axis": {"title": null, "labelAngle": 0, "labelFont": "Lato", "labelFontSize": 26, "labelPadding": 18, "labelOffset": {"condition": {"test": "datum.value == 'backward'", "value": -14}, "value": 3}}},
                     "xOffset": {"field": "sub", "type": "nominal", "scale": {"domain": ["1","2","3","4","5","6","7","8","9"], "paddingInner": 0, "paddingOuter": 0}},
                     "y": {"field": "lo", "type": "quantitative", "scale": {"domain": [-0.114, 2.394], "nice": false, "zero": false},
                           "axis": {"title": null, "labels": false, "values": [0, 0.5, 1.0, 1.5, 2.0]}},
                     "y2": {"field": "hi"}}},
                  {"data": {"name": "gamma"}, "transform": [{"filter": "datum.st == '40~59' && datum.k == 'box'"}],
                   "mark": {"type": "bar", "stroke": "#808080", "strokeWidth": 2},
                   "encoding": {"x": {"field": "d", "type": "nominal"}, "xOffset": {"field": "sub", "type": "nominal"},
                     "y": {"field": "q1", "type": "quantitative"}, "y2": {"field": "q3"},
                     "color": {"field": "sub", "type": "nominal", "scale": {"domain": ["1","2","3","4","5","6","7","8","9","10"], "range": ["#8fcdc1","#f7f6b5","#bcb8d8","#ef8579","#83add0","#f2ae66","#add66a","#f7cde2","#d6d6d6","#b082b2"]}, "legend": null}}},
                  {"data": {"name": "gamma"}, "transform": [{"filter": "datum.st == '40~59' && datum.k == 'box'"}],
                   "mark": {"type": "bar", "fillOpacity": 0, "stroke": "#505050", "strokeWidth": 2},
                   "encoding": {"x": {"field": "d", "type": "nominal"}, "xOffset": {"field": "sub", "type": "nominal"},
                     "y": {"field": "med", "type": "quantitative"}, "y2": {"field": "med"}}},
                  {"data": {"name": "gamma"}, "transform": [{"filter": "datum.st == '40~59' && datum.k == 'out'"}],
                   "mark": {"type": "point", "shape": "diamond", "filled": true, "size": 110, "opacity": 1},
                   "encoding": {"x": {"field": "d", "type": "nominal"}, "xOffset": {"field": "sub", "type": "nominal"},
                     "y": {"field": "v", "type": "quantitative"},
                     "color": {"field": "sub", "type": "nominal", "legend": null}}},
                  {"data": {"name": "gamma"}, "transform": [{"filter": "false"}],
                   "mark": {"type": "point", "filled": true, "shape": "circle"},
                   "encoding": {"fill": {"field": "sub", "type": "nominal",
                     "scale": {"domain": ["1","2","3","4","5","6","7","8","9","10"], "range": ["#8dd3c7","#ffffb3","#bebada","#fb8072","#80b1d3","#fdb462","#fdb462","#b3de69","#fccde5","#d9d9d9"]},
                     "legend": {"title": "Sub", "orient": "none", "legendX": 548, "legendY": 298, "padding": 0, "titleAnchor": "end", "titleFont": "Liberation Sans", "titleFontSize": 21, "titleFontWeight": "bold", "titleColor": "#111111", "titlePadding": 45, "labelFont": "Lato", "labelFontSize": 18, "labelColor": "#222222", "labelOffset": 18, "symbolType": "circle", "symbolSize": 324, "symbolStrokeWidth": 0, "symbolOpacity": 1, "rowPadding": 10}}}}
                ]},
                {"layer": [
                  {"data": {"name": "gamma"}, "transform": [{"filter": "datum.st == '40~59' && datum.k == 'reg'"}],
                   "mark": {"type": "line", "color": "#7a7a7a", "strokeWidth": 2.5, "strokeDash": [9, 5]},
                   "encoding": {"x": {"field": "rx", "type": "quantitative", "scale": {"domain": [-0.862, 1.862], "nice": false, "zero": false}, "axis": null},
                     "y": {"field": "ry", "type": "quantitative"}}},
                  {"data": {"name": "gamma"}, "transform": [{"filter": "datum.st == '40~59' && datum.k == 'reg'"}],
                   "mark": {"type": "point", "filled": true, "color": "#707070", "size": 100, "opacity": 1},
                   "encoding": {"x": {"field": "rx", "type": "quantitative"}, "y": {"field": "ry", "type": "quantitative"}}}
                ]}
              ],
              "resolve": {"scale": {"x": "independent", "xOffset": "independent"}}
            }
          ]
        }
      ]
    }
  ],
  "spacing": 99,
  "config": {
    "view": {"stroke": null},
    "axis": {"grid": false, "domainColor": "#9a9a9a", "domainWidth": 2, "tickColor": "#9a9a9a", "tickSize": 6, "tickWidth": 1.5, "labelColor": "#3a3a3a", "titleColor": "#222222", "titleFontWeight": "normal"}
  }
}
